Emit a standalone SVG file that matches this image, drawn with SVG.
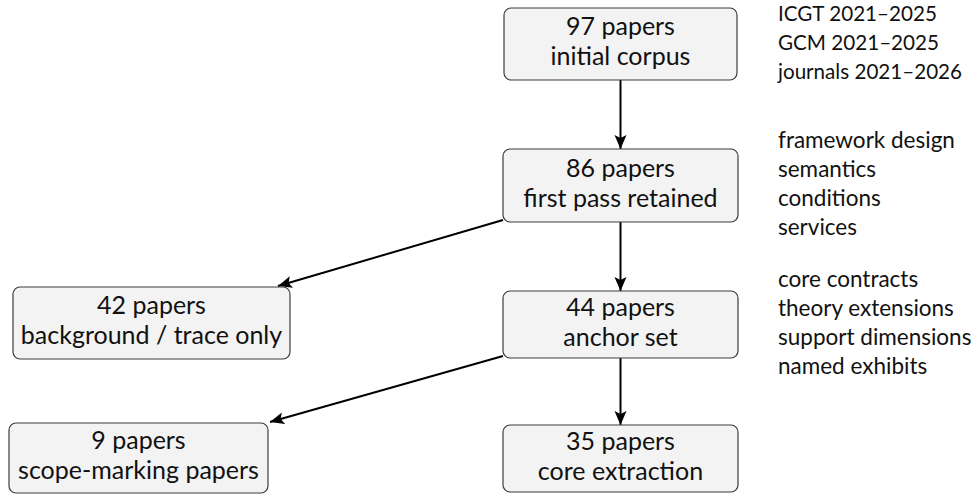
<svg xmlns="http://www.w3.org/2000/svg" width="974" height="495" viewBox="0 0 974 495">
<style>
.box{fill:#f3f3f3;stroke:#3c3c3c;stroke-width:1.2}
.t{font-family:Lato,"Open Sans","DejaVu Sans",sans-serif;font-size:25px;fill:#111;text-anchor:middle}
.r{font-family:Lato,"Open Sans","DejaVu Sans",sans-serif;font-size:22.5px;fill:#111}
.y{font-size:21px}
.e{stroke:#000;stroke-width:2;fill:none;marker-end:url(#ah)}
</style>
<defs>
<marker id="ah" markerUnits="userSpaceOnUse" markerWidth="16" markerHeight="14" refX="14" refY="6" orient="auto">
<path d="M0,0 L14,6 L0,12 L3,6 Z" fill="#000"/>
</marker>
</defs>
<rect width="974" height="495" fill="#fff"/>
<g id="connectors">
<line class="e" x1="620.5" y1="80" x2="620.5" y2="149"/>
<line class="e" x1="620.5" y1="222" x2="620.5" y2="291"/>
<line class="e" x1="620.5" y1="358" x2="620.5" y2="425"/>
<line class="e" x1="503" y1="220" x2="278" y2="286"/>
<line class="e" x1="503" y1="356" x2="270" y2="422"/>
</g>
<g id="n97">
<rect class="box" x="504" y="8" width="233" height="72" rx="7"/>
<text class="t" x="620.5" y="35">97 papers</text>
<text class="t" x="620.5" y="65">initial corpus</text>
</g>
<g id="n86">
<rect class="box" x="503" y="149" width="235" height="73" rx="7"/>
<text class="t" x="620.5" y="176.5">86 papers</text>
<text class="t" x="620.5" y="206.5">first pass retained</text>
</g>
<g id="n44">
<rect class="box" x="503" y="291" width="235" height="67" rx="7"/>
<text class="t" x="620.5" y="315.5">44 papers</text>
<text class="t" x="620.5" y="345.5">anchor set</text>
</g>
<g id="n35">
<rect class="box" x="503" y="425" width="235" height="67" rx="7"/>
<text class="t" x="620.5" y="449.5">35 papers</text>
<text class="t" x="620.5" y="479.5">core extraction</text>
</g>
<g id="n42">
<rect class="box" x="13" y="287" width="277" height="72" rx="7"/>
<text class="t" x="151.5" y="314">42 papers</text>
<text class="t" x="151.5" y="344">background / trace only</text>
</g>
<g id="n9">
<rect class="box" x="9" y="423" width="259" height="70" rx="7"/>
<text class="t" x="138.5" y="449">9 papers</text>
<text class="t" x="138.5" y="479">scope-marking papers</text>
</g>
<g id="notes">
<text class="r y" x="778" y="21" textLength="159" lengthAdjust="spacingAndGlyphs">ICGT 2021–2025</text>
<text class="r y" x="778" y="50" textLength="161" lengthAdjust="spacingAndGlyphs">GCM 2021–2025</text>
<text class="r y" x="778" y="79" textLength="184" lengthAdjust="spacingAndGlyphs">journals 2021–2026</text>
<text class="r" x="778" y="148">framework design</text>
<text class="r" x="778" y="177">semantics</text>
<text class="r" x="778" y="206">conditions</text>
<text class="r" x="778" y="235">services</text>
<text class="r" x="778" y="287">core contracts</text>
<text class="r" x="778" y="316">theory extensions</text>
<text class="r" x="778" y="345">support dimensions</text>
<text class="r" x="778" y="374">named exhibits</text>
</g>
</svg>
